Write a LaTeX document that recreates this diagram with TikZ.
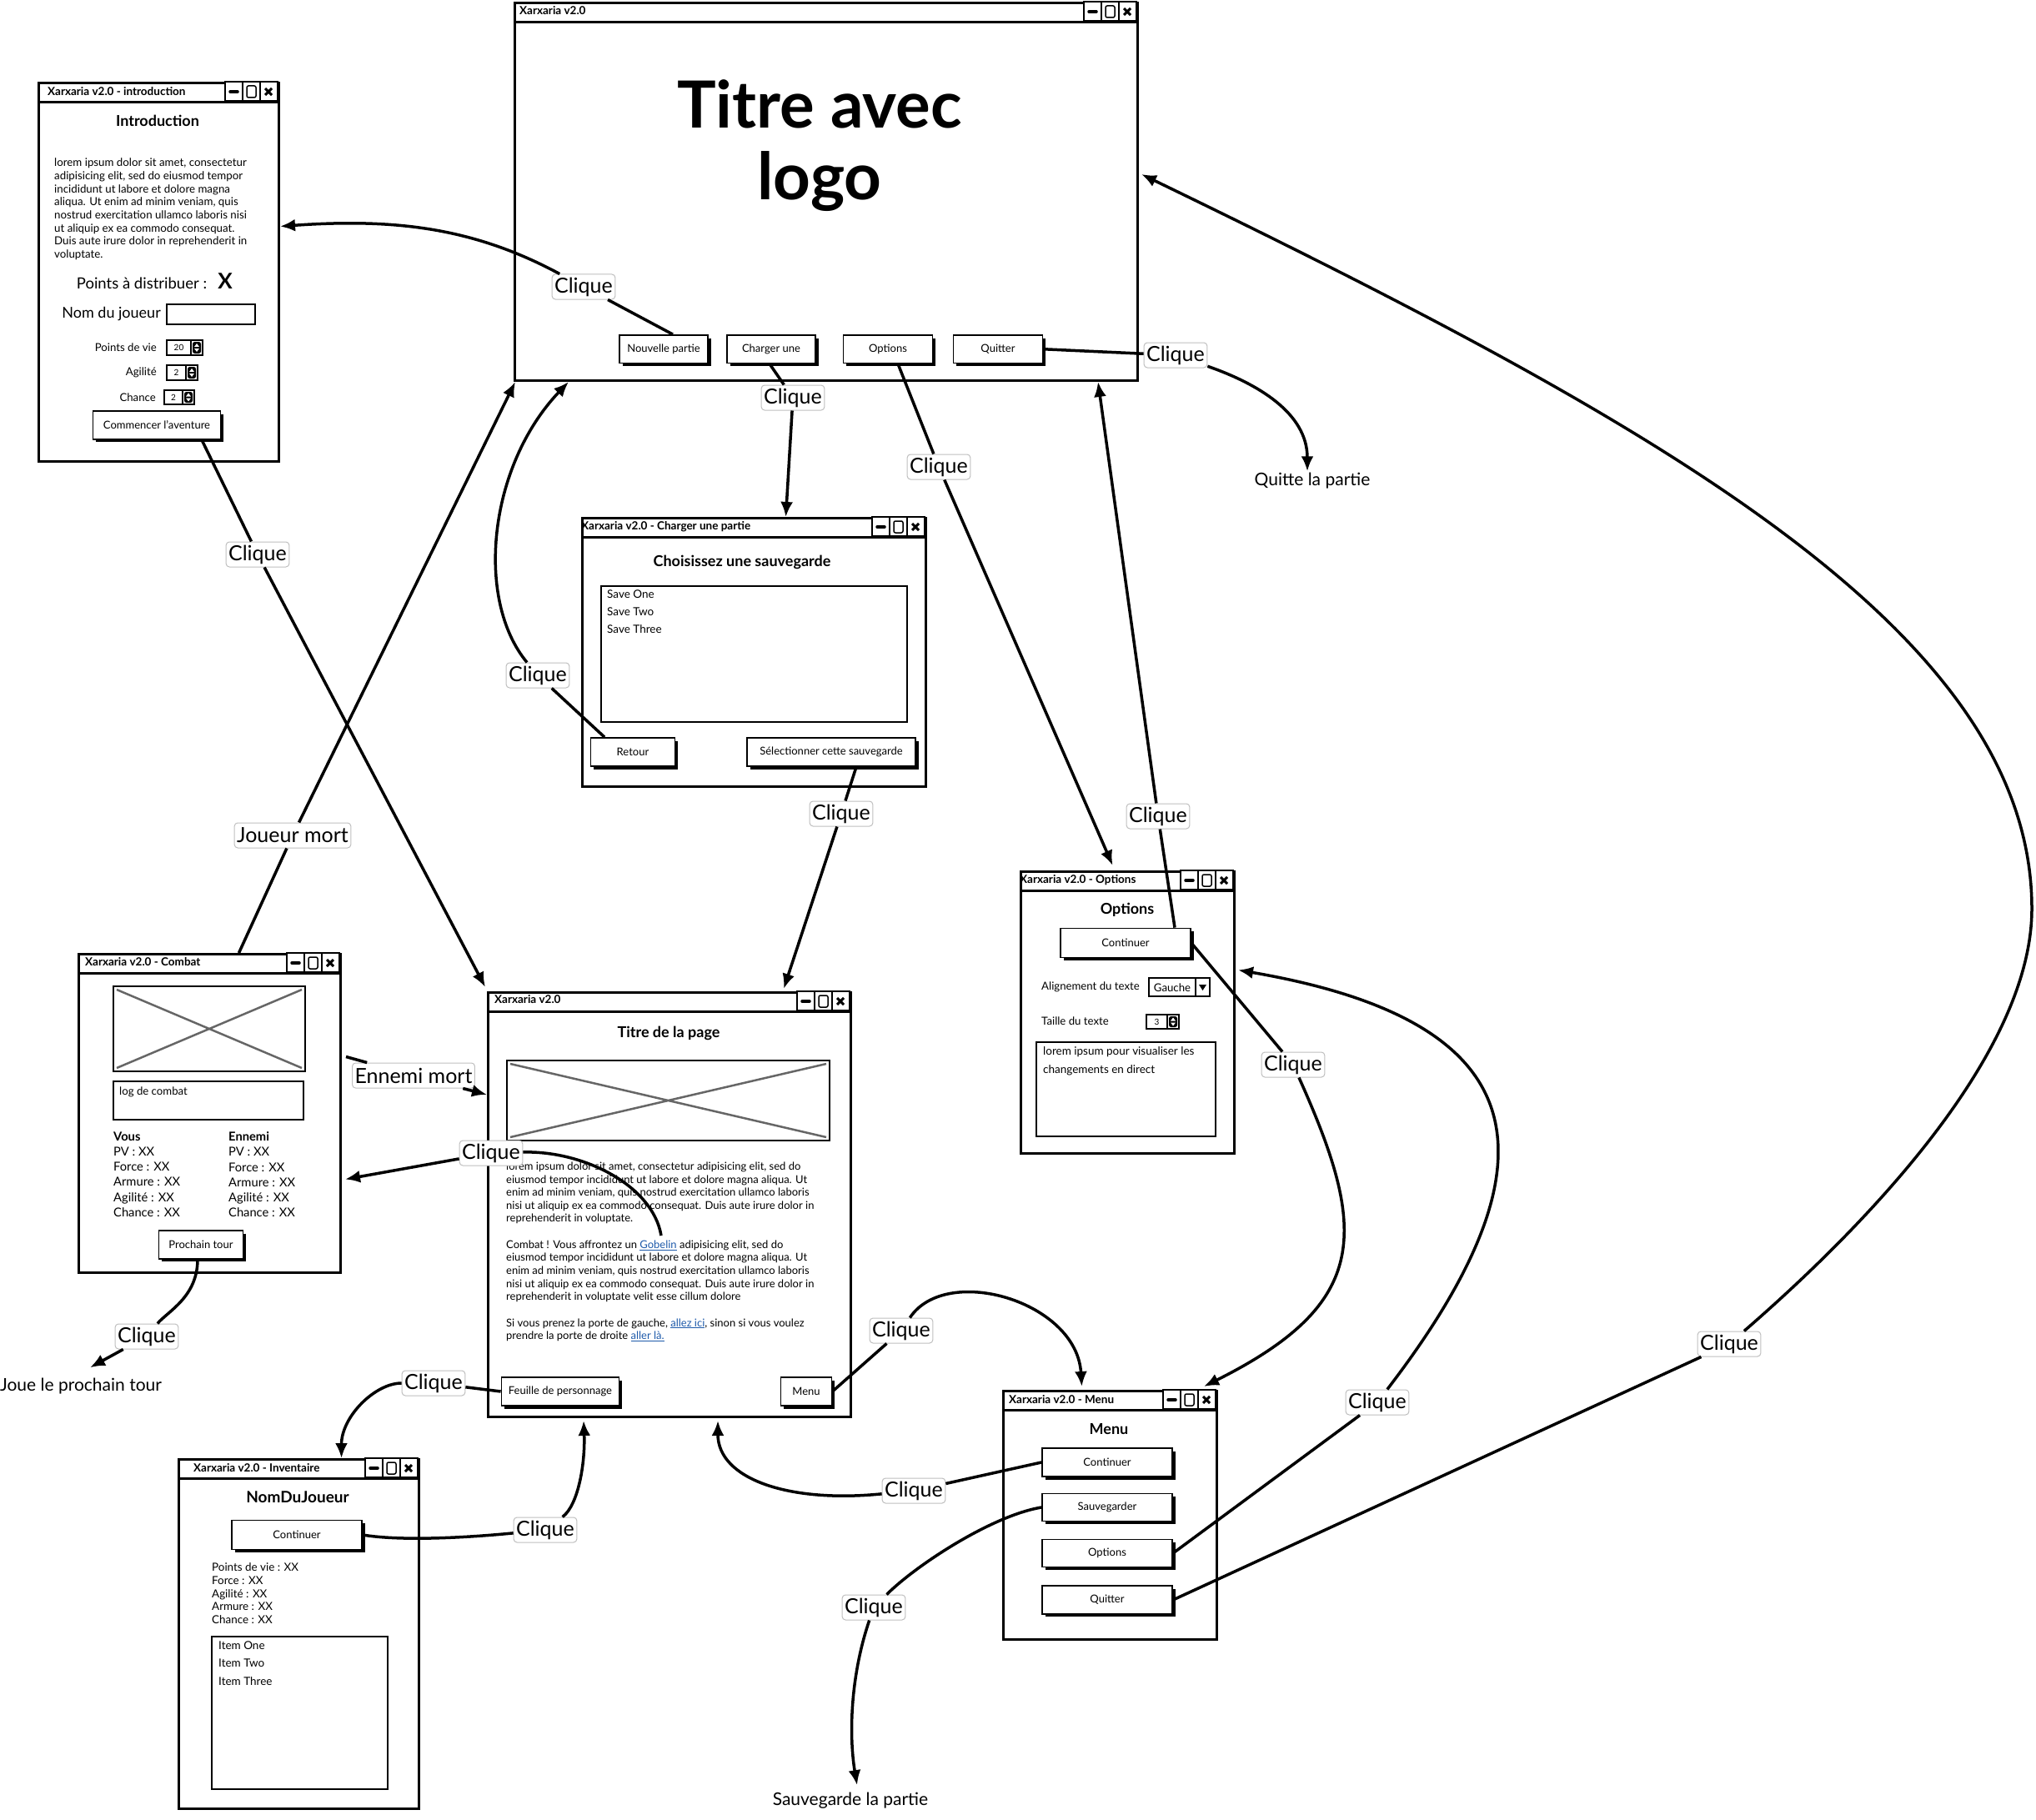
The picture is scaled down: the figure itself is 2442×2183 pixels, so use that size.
\documentclass[tikz,border=0pt]{standalone}
\usepackage{fontspec}
\setmainfont{Lato}
\usetikzlibrary{positioning, arrows.meta, shadows}

\definecolor{linkblue}{RGB}{30,90,170}
\newcommand{\lnk}[1]{\textcolor{linkblue}{\underline{#1}}}

% the three little boxes at the right end of a title bar
\newcommand{\wincontrols}[2]{%
  \begin{scope}[shift={(#1,#2)}]
    \foreach \k in {1,2,3}
      \draw[line width=2pt, fill=white] (-21*\k,0) rectangle (-21*\k+21,23);
    \draw[line width=3.5pt, line cap=round] (-57,12) -- (-48,12);
    \draw[line width=1.5pt, rounded corners=2pt] (-37,5) rectangle (-26,19);
    \draw[line width=3pt] (-15,8) -- (-7,16) (-15,16) -- (-7,8);
  \end{scope}}

% number field with up/down arrows: x, y, width, height, value
\newcommand{\spinbox}[5]{%
  \begin{scope}[shift={(#1,#2)}]
    \draw[line width=1.5pt, fill=white] (0,0) rectangle (#3,#4);
    \draw[line width=1.5pt] (#3-14,0) -- (#3-14,#4);
    \fill[rounded corners=2.5pt] (#3-12,2) rectangle (#3-2,#4-2);
    \fill[white] (#3-10,{#4/2-1}) -- (#3-4,{#4/2-1}) -- (#3-7,{#4/2-5}) -- cycle;
    \fill[white] (#3-10,{#4/2+1}) -- (#3-4,{#4/2+1}) -- (#3-7,{#4/2+5}) -- cycle;
    \node[font=\fontsize{10}{11}\selectfont] at ({(#3-14)/2},{#4/2}) {#5};
  \end{scope}}

% picture placeholder
\newcommand{\imgbox}[4]{%
  \draw[line width=2.5pt, fill=white] (#1,#2) rectangle (#3,#4);
  \draw[line width=2.5pt, black!60] (#1+4,#2+4) -- (#3-4,#4-4) (#1+4,#4-4) -- (#3-4,#2+4);}

\begin{document}
\begin{tikzpicture}[
    x=1pt, y=-1pt,
    win/.style={draw, line width=3pt, fill=white, anchor=north west, inner sep=0pt},
    bar/.style={win, minimum height=23pt},
    wintitle/.style={anchor=west, inner sep=0pt, font=\fontsize{13.5}{15}\selectfont\bfseries},
    heading/.style={font=\fontsize{18}{20}\selectfont\bfseries},
    small/.style={inner sep=0pt, font=\fontsize{13.2}{15}\selectfont},
    para/.style={anchor=north west, align=left, inner sep=0pt},
    btn/.style={draw, line width=1.8pt, fill=white, inner sep=0pt,
        font=\fontsize{13}{15}\selectfont,
        drop shadow={shadow xshift=3.5pt, shadow yshift=-3.5pt, fill=black, opacity=1}},
    field/.style={draw, line width=2.5pt},
    lbl/.style={draw=black!25, line width=1pt, fill=white, rounded corners=4pt,
        inner sep=3pt, minimum height=30pt, font=\fontsize{25}{27}\selectfont},
    note/.style={inner sep=0pt, font=\fontsize{21}{23}\selectfont},
    link/.style={line width=3.5pt, -{Latex[length=18pt,width=15pt]}}
]
    \useasboundingbox (0,0) rectangle (2442,2183);

    % introduction window
    \node[win, minimum width=288pt, minimum height=454pt] (intro) at (45,98) {};
    \node[bar, minimum width=288pt] (introBar) at (45,98) {};
    \node[wintitle] (introTitle) at (57,110) {Xarxaria v2.0 - introduction};
    \wincontrols{333}{98}
    \node[heading] (introHead) at (189,145) {Introduction};
    \node[para, font=\fontsize{13.3}{15.7}\selectfont] (introText) at (65,189.7)
        {lorem ipsum dolor sit amet, consectetur\\
         adipisicing elit, sed do eiusmod tempor\\
         incididunt ut labore et dolore magna\\
         aliqua. Ut enim ad minim veniam, quis\\
         nostrud exercitation ullamco laboris nisi\\
         ut aliquip ex ea commodo consequat.\\
         Duis aute irure dolor in reprehenderit in\\
         voluptate.};
    \node[font=\fontsize{18.5}{20}\selectfont, inner sep=0pt] (introPoints) at (170,340) {Points à distribuer :};
    \node[font=\fontsize{26}{28}\selectfont\bfseries, inner sep=0pt] (introX) at (270,337) {X};
    \node[font=\fontsize{18}{20}\selectfont, inner sep=0pt, anchor=east] (introName) at (193,377) {Nom du joueur};
    \draw[field] (200,365) rectangle (306,389);
    \node[small, anchor=east] (introPv) at (188,417) {Points de vie};
    \spinbox{200}{408}{43}{18}{20}
    \node[small, anchor=east] (introAgi) at (188,447) {Agilité};
    \spinbox{200}{438}{37}{18}{2}
    \node[small, anchor=east] (introLuck) at (187,477) {Chance};
    \spinbox{197}{468}{36}{17}{2}
    \node[btn, minimum width=153pt, minimum height=33.5pt] (btnStart) at (188,510) {Commencer l'aventure};

    % main window
    \node[win, minimum width=747pt, minimum height=453pt] (main) at (616,2) {};
    \node[bar, minimum width=747pt] (mainBar) at (616,2) {};
    \node[wintitle] (mainTitle) at (623,13) {Xarxaria v2.0};
    \wincontrols{1363}{2}
    \node[font=\fontsize{78}{86}\selectfont\bfseries, align=center, inner sep=0pt, anchor=north]
        (mainLogo) at (983,95) {Titre avec\\logo};
    \node[btn, minimum width=106pt, minimum height=33.5pt] (btnNew) at (796,418.75) {Nouvelle partie};
    \node[btn, minimum width=106pt, minimum height=33.5pt] (btnLoad) at (925,418.75) {Charger une};
    \node[btn, minimum width=107pt, minimum height=33.5pt] (btnOpt) at (1065,418.75) {Options};
    \node[btn, minimum width=107pt, minimum height=33.5pt] (btnQuit) at (1197,418.75) {Quitter};

    % load window
    \node[win, minimum width=412pt, minimum height=322pt] (charger) at (697,620) {};
    \node[bar, minimum width=412pt] (chargerBar) at (697,620) {};
    \node[wintitle] (chargerTitle) at (697,632) {Xarxaria v2.0 - Charger une partie};
    \wincontrols{1109}{620}
    \node[heading] (chargerHead) at (890,674) {Choisissez une sauvegarde};
    \draw[field] (721,703) rectangle (1088,866);
    \node[para, font=\fontsize{13.5}{21}\selectfont] (chargerList) at (728,707.5)
        {Save One\\Save Two\\Save Three};
    \node[btn, minimum width=101pt, minimum height=34pt] (btnBack) at (759,902) {Retour};
    \node[btn, minimum width=202pt, minimum height=34pt] (btnSelect) at (997,902) {Sélectionner cette sauvegarde};

    % options window
    \node[win, minimum width=256pt, minimum height=338pt] (options) at (1223,1044) {};
    \node[bar, minimum width=256pt] (optionsBar) at (1223,1044) {};
    \node[wintitle] (optionsTitle) at (1223,1056) {Xarxaria v2.0 - Options};
    \wincontrols{1479}{1044}
    \node[heading] (optionsHead) at (1352,1091) {Options};
    \node[btn, minimum width=156pt, minimum height=35pt] (btnOptCont) at (1350,1131) {Continuer};
    \node[small, anchor=west] (optionsAlign) at (1249,1184) {Alignement du texte};
    \draw[line width=1.5pt] (1378,1173) rectangle (1451,1195) (1434,1173) -- (1434,1195);
    \fill (1438,1181) -- (1447,1181) -- (1442.5,1188) -- cycle;
    \node[small] (optionsLeft) at (1406,1185) {Gauche};
    \node[small, anchor=west] (optionsSize) at (1249,1225) {Taille du texte};
    \spinbox{1375}{1217}{39}{17}{3}
    \draw[field] (1243,1250) rectangle (1458,1363);
    \node[para, font=\fontsize{13.5}{22}\selectfont] (optionsText) at (1251,1255.5)
        {lorem ipsum pour visualiser les\\changements en direct};

    % fight window
    \node[win, minimum width=314pt, minimum height=382pt] (combat) at (93,1143) {};
    \node[bar, minimum width=314pt] (combatBar) at (93,1143) {};
    \node[wintitle] (combatTitle) at (102,1154) {Xarxaria v2.0 - Combat};
    \wincontrols{407}{1143}
    \imgbox{136}{1183}{366}{1285}
    \draw[field] (136,1297) rectangle (364,1343);
    \node[small, anchor=west] (combatLog) at (143,1310) {log de combat};
    \node[para, font=\fontsize{14.7}{18.2}\selectfont] (combatYou) at (136,1357.5)
        {\textbf{Vous}\\PV : XX\\Force : XX\\Armure : XX\\Agilité : XX\\Chance : XX};
    \node[para, font=\fontsize{14.7}{18.2}\selectfont] (combatFoe) at (274,1357.5)
        {\textbf{Ennemi}\\PV : XX\\Force : XX\\Armure : XX\\Agilité : XX\\Chance : XX};
    \node[btn, minimum width=101pt, minimum height=33.5pt] (btnNext) at (241,1493) {Prochain tour};

    % story page window
    \node[win, minimum width=435pt, minimum height=509pt] (page) at (584,1189) {};
    \node[bar, minimum width=435pt] (pageBar) at (584,1189) {};
    \node[wintitle] (pageTitle) at (593,1199) {Xarxaria v2.0};
    \wincontrols{1019}{1189}
    \node[heading] (pageHead) at (802,1239) {Titre de la page};
    \imgbox{608}{1272}{995}{1368}
    \node[para, font=\fontsize{13}{15.65}\selectfont] (pageText) at (607,1393.6)
        {lorem ipsum dolor sit amet, consectetur adipisicing elit, sed do\\
         eiusmod tempor incididunt ut labore et dolore magna aliqua. Ut\\
         enim ad minim veniam, quis nostrud exercitation ullamco laboris\\
         nisi ut aliquip ex ea commodo consequat. Duis aute irure dolor in\\
         reprehenderit in voluptate.\\[15.65pt]
         Combat ! Vous affrontez un \lnk{Gobelin} adipisicing elit, sed do\\
         eiusmod tempor incididunt ut labore et dolore magna aliqua. Ut\\
         enim ad minim veniam, quis nostrud exercitation ullamco laboris\\
         nisi ut aliquip ex ea commodo consequat. Duis aute irure dolor in\\
         reprehenderit in voluptate velit esse cillum dolore\\[15.65pt]
         Si vous prenez la porte de gauche, \lnk{allez ici}, sinon si vous voulez\\
         prendre la porte de droite \lnk{aller là.}};
    \node[btn, minimum width=141pt, minimum height=34pt] (btnSheet) at (672,1669) {Feuille de personnage};
    \node[btn, minimum width=61pt, minimum height=34pt] (btnMenu) at (967,1669) {Menu};

    % menu window
    \node[win, minimum width=256pt, minimum height=298pt] (menu) at (1202,1667) {};
    \node[bar, minimum width=256pt] (menuBar) at (1202,1667) {};
    \node[wintitle] (menuTitle) at (1210,1679) {Xarxaria v2.0 - Menu};
    \wincontrols{1458}{1667}
    \node[heading] (menuHead) at (1330,1714) {Menu};
    \node[btn, minimum width=156pt, minimum height=34pt] (btnMCont) at (1328,1754) {Continuer};
    \node[btn, minimum width=156pt, minimum height=33pt] (btnMSave) at (1328,1808) {Sauvegarder};
    \node[btn, minimum width=156pt, minimum height=33pt] (btnMOpt) at (1328,1863) {Options};
    \node[btn, minimum width=156pt, minimum height=33.5pt] (btnMQuit) at (1328,1919) {Quitter};

    % inventory window
    \node[win, minimum width=288pt, minimum height=419pt] (inv) at (213,1749) {};
    \node[bar, minimum width=288pt] (invBar) at (213,1749) {};
    \node[wintitle] (invTitle) at (232,1761) {Xarxaria v2.0 - Inventaire};
    \wincontrols{501}{1749}
    \node[heading, font=\fontsize{19}{21}\selectfont\bfseries] (invHead) at (357,1796) {NomDuJoueur};
    \node[btn, minimum width=156pt, minimum height=35pt] (btnICont) at (356,1841) {Continuer};
    \node[para, font=\fontsize{13.4}{15.8}\selectfont] (invStats) at (254,1874.5)
        {Points de vie : XX\\Force : XX\\Agilité : XX\\Armure : XX\\Chance : XX};
    \draw[field] (254,1963) rectangle (465,2146);
    \node[para, font=\fontsize{13.5}{21.5}\selectfont] (invList) at (262,1968.5)
        {Item One\\Item Two\\Item Three};

    % free ends
    \node[note] (txtQuit) at (1574,577) {Quitte la partie};
    \node[note] (txtNext) at (97,1663) {Joue le prochain tour};
    \node[note] (txtSave) at (1020,2160) {Sauvegarde la partie};
    \coordinate (gobelin) at (793,1482);
    \coordinate (quitBend) at (2437,1090);

    % labels on the connectors
    \node[lbl] (claA) at (700,344) {Clique};
    \node[lbl] (claB) at (951,477) {Clique};
    \node[lbl] (claC) at (1126,560) {Clique};
    \node[lbl] (claD) at (1410,426) {Clique};
    \node[lbl] (claE) at (309,665) {Clique};
    \node[lbl] (claF) at (351,1002) {Joueur mort};
    \node[lbl] (claG) at (645,810) {Clique};
    \node[lbl] (claH) at (1009,976) {Clique};
    \node[lbl] (claI) at (1389,979) {Clique};
    \node[lbl] (claJ) at (496,1290) {Ennemi mort};
    \node[lbl] (claK) at (589,1383) {Clique};
    \node[lbl] (claL) at (176,1603) {Clique};
    \node[lbl] (claM) at (520,1659) {Clique};
    \node[lbl] (claN) at (654,1835) {Clique};
    \node[lbl] (claO) at (1081,1596) {Clique};
    \node[lbl] (claP) at (1096,1788) {Clique};
    \node[lbl] (claQ) at (1048,1928) {Clique};
    \node[lbl] (claR) at (1652,1682) {Clique};
    \node[lbl] (claS) at (1551,1277) {Clique};
    \node[lbl] (claT) at (2074,1612) {Clique};

    % connectors
    \draw[link] ([xshift=11pt]btnNew.north) -- (claA)
        .. controls +(-130,-70) and +(140,-10) .. ([yshift=55pt]intro.east);
    \draw[link] ([xshift=-2pt]btnLoad.south) -- (claB) -- ([xshift=38pt]charger.north);
    \draw[link] ([xshift=12pt]btnOpt.south) -- (claC) -- ([xshift=-18pt,yshift=6pt]options.north);
    \draw[link] (btnQuit.east) -- (claD)
        .. controls +(98,34) and +(0,-70) .. ([xshift=-6pt,yshift=2pt]txtQuit.north);
    \draw[link] ([xshift=54pt]btnStart.south) -- (claE) -- ([xshift=-2pt,yshift=5pt]page.north west);
    \draw[link] ([xshift=35pt]combat.north) -- (claF) -- ([xshift=2pt]main.south west);
    \draw[link] ([xshift=-34pt]btnBack.north) -- (claG)
        .. controls +(-75,-90) and +(-97,102) .. ([xshift=66pt]main.south west);
    \draw[link] ([xshift=30pt]btnSelect.south) -- (claH) -- ([xshift=137pt,yshift=3pt]page.north);
    \draw[link] ([xshift=59pt]btnOptCont.north) -- (claI) -- ([xshift=-49pt]main.south east);
    \draw[link] ([xshift=5pt,yshift=68pt]combat.east) -- (claJ) -- ([yshift=132pt]page.west);
    \draw[link] (gobelin) .. controls +(-10,-60) and +(111,-3) .. (claK)
        -- ([xshift=4pt,yshift=-79pt]combat.east);
    \draw[link] ([xshift=-4pt]btnNext.south) .. controls +(0,45) and +(25,-30) .. (claL)
        -- ([xshift=11pt,yshift=13pt]txtNext.north);
    \draw[link] (btnSheet.west) -- (claM)
        .. controls +(-70,0) and +(0,-50) .. ([xshift=51pt]inv.north);
    \draw[link] (btnICont.east) .. controls +(60,10) and +(-50,5) .. (claN)
        .. controls +(40,-30) and +(2,50) .. ([xshift=-103pt,yshift=-3pt]page.south);
    \draw[link] (btnMenu.east) -- (claO)
        .. controls +(54,-81) and +(-6,-102) .. ([xshift=-34pt,yshift=4pt]menu.north);
    \draw[link] (btnMCont.west) -- (claP)
        .. controls +(-150,15) and +(0,70) .. ([xshift=58pt,yshift=-3pt]page.south);
    \draw[link] (btnMSave.west) .. controls +(-60,10) and +(50,-50) .. (claQ)
        .. controls +(-28,82) and +(-10,-60) .. ([xshift=8pt,yshift=9pt]txtSave.north);
    \draw[link] (btnMOpt.east) -- (claR)
        .. controls +(230,-300) and +(350,60) .. ([xshift=3pt,yshift=51pt]options.east);
    \draw[link] (btnOptCont.east) -- (claS)
        .. controls +(90,200) and +(200,-100) .. ([xshift=-17pt,yshift=4pt]menu.north east);
    \draw[link] (btnMQuit.east) -- (claT)
        .. controls +(150,-130) and +(0,180) .. (quitBend)
        .. controls +(0,-330) and +(630,305) .. ([xshift=3pt,yshift=21pt]main.east);

\end{tikzpicture}
\end{document}
